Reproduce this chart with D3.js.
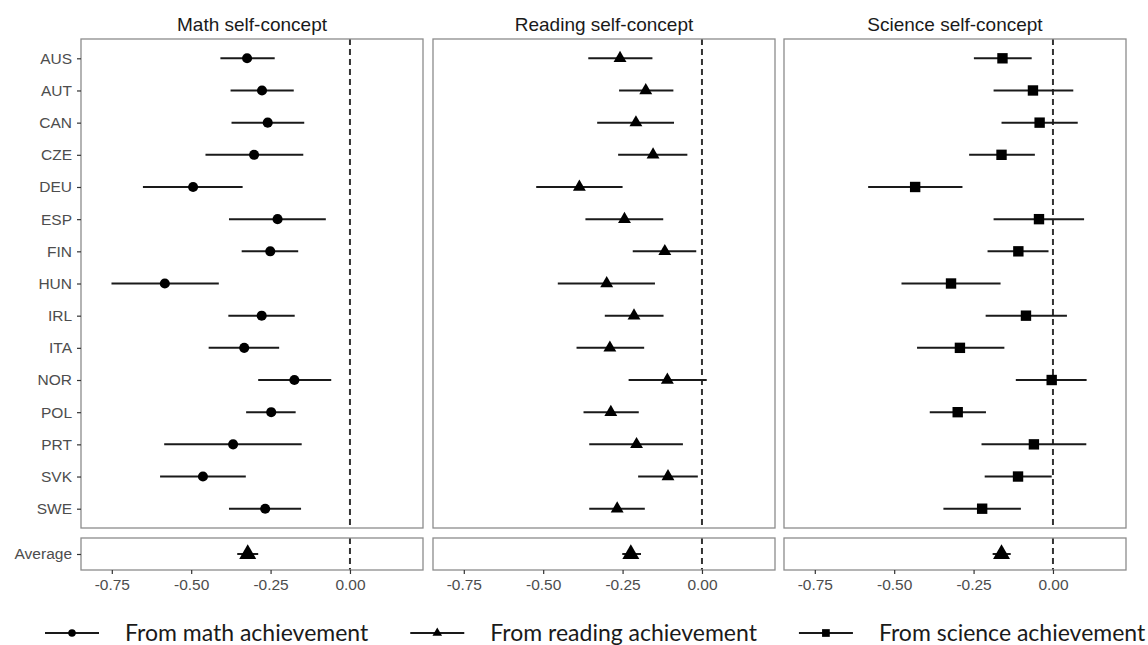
<!DOCTYPE html>
<html>
<head>
<script src="https://cdn.jsdelivr.net/npm/d3@7"></script>
<style>
  body { margin: 0; background: #fff; }
  text { font-family: "Liberation Sans", Arial, Helvetica, sans-serif; }
  .legend text { font-family: Lato, "Open Sans", sans-serif; }
</style>
</head>
<body>
<script>

// country rows, top to bottom
var countries = ["AUS", "AUT", "CAN", "CZE", "DEU", "ESP", "FIN", "HUN", "IRL", "ITA", "NOR", "POL", "PRT", "SVK", "SWE"];

var titles = ["Math self-concept", "Reading self-concept", "Science self-concept"];
var legendLabels = ["From math achievement", "From reading achievement", "From science achievement"];
var xTicks = [-0.75, -0.5, -0.25, 0];

// estimates with lower / upper bounds
var mathEst = [-0.324, -0.277, -0.259, -0.302, -0.494, -0.228, -0.251, -0.583, -0.278, -0.333, -0.175, -0.248, -0.368, -0.463, -0.267];
var mathLo  = [-0.408, -0.376, -0.373, -0.455, -0.652, -0.381, -0.341, -0.751, -0.383, -0.445, -0.289, -0.327, -0.585, -0.598, -0.381];
var mathHi  = [-0.237, -0.177, -0.144, -0.147, -0.338, -0.076, -0.163, -0.413, -0.174, -0.223, -0.059, -0.171, -0.152, -0.328, -0.154];

var readEst = [-0.258, -0.177, -0.208, -0.154, -0.386, -0.244, -0.117, -0.300, -0.214, -0.290, -0.109, -0.287, -0.206, -0.107, -0.267];
var readLo  = [-0.358, -0.261, -0.330, -0.264, -0.522, -0.367, -0.218, -0.454, -0.306, -0.395, -0.231, -0.373, -0.355, -0.201, -0.355];
var readHi  = [-0.156, -0.090, -0.088, -0.046, -0.250, -0.122, -0.018, -0.148, -0.121, -0.182, 0.015, -0.199, -0.060, -0.013, -0.180];

var sciEst = [-0.159, -0.063, -0.042, -0.162, -0.434, -0.044, -0.109, -0.321, -0.085, -0.293, -0.004, -0.300, -0.060, -0.110, -0.223];
var sciLo  = [-0.249, -0.187, -0.162, -0.264, -0.582, -0.187, -0.206, -0.477, -0.212, -0.428, -0.117, -0.388, -0.225, -0.215, -0.345];
var sciHi  = [-0.067, 0.064, 0.078, -0.057, -0.285, 0.098, -0.014, -0.165, 0.044, -0.153, 0.106, -0.211, 0.105, -0.004, -0.101];

// pooled average per panel (math, reading, science)
var avgEst = [-0.322, -0.224, -0.162];
var avgLo  = [-0.355, -0.251, -0.190];
var avgHi  = [-0.289, -0.192, -0.133];

var panels = [
  {est: mathEst, lo: mathLo, hi: mathHi, sym: d3.symbolCircle, size: 80},
  {est: readEst, lo: readLo, hi: readHi, sym: d3.symbolTriangle, size: 72},
  {est: sciEst,  lo: sciLo,  hi: sciHi,  sym: d3.symbolSquare, size: 108}
];

var panelLeft = [81, 433, 784], panelW = 342;
var plotTop = 39, plotBottom = 528, avgTop = 538, avgBottom = 570;
var ink = "#1a1a1a", borderCol = "#8c8c8c";

var svg = d3.select("body").append("svg")
  .attr("width", 1148)
  .attr("height", 645);

var x = d3.scaleLinear().domain([-0.847, 0.23]).range([0, panelW]);
var y = d3.scalePoint().domain(countries).range([plotTop, plotBottom]).padding(0.6);
var yAvg = d3.scalePoint().domain(["Average"]).range([avgTop, avgBottom]).padding(0.5);

panels.forEach(function (p, i) {
  var g = svg.append("g").attr("transform", "translate(" + panelLeft[i] + ",0)");

  g.append("text")
    .attr("x", panelW / 2).attr("y", 31)
    .attr("text-anchor", "middle")
    .attr("font-size", 19).attr("fill", ink)
    .text(titles[i]);

  // zero reference line in both strips
  [[plotTop, plotBottom], [avgTop, avgBottom]].forEach(function (r) {
    g.append("line")
      .attr("x1", x(0)).attr("x2", x(0))
      .attr("y1", r[0]).attr("y2", r[1])
      .attr("stroke", "#333").attr("stroke-width", 2)
      .attr("stroke-dasharray", "6,4");
  });

  var rows = countries.map(function (c, k) {
    return {c: c, est: p.est[k], lo: p.lo[k], hi: p.hi[k]};
  });

  g.selectAll("line.bar").data(rows).enter().append("line")
    .attr("class", "bar")
    .attr("x1", function (d) { return x(d.lo); })
    .attr("x2", function (d) { return x(d.hi); })
    .attr("y1", function (d) { return y(d.c); })
    .attr("y2", function (d) { return y(d.c); })
    .attr("stroke", ink).attr("stroke-width", 2);

  g.selectAll("path.pt").data(rows).enter().append("path")
    .attr("class", "pt")
    .attr("d", d3.symbol().type(p.sym).size(p.size))
    .attr("transform", function (d) { return "translate(" + x(d.est) + "," + y(d.c) + ")"; })
    .attr("fill", "#000");

  // average strip
  g.append("line")
    .attr("x1", x(avgLo[i])).attr("x2", x(avgHi[i]))
    .attr("y1", yAvg("Average")).attr("y2", yAvg("Average"))
    .attr("stroke", ink).attr("stroke-width", 2);
  g.append("path")
    .attr("d", d3.symbol().type(d3.symbolTriangle).size(125))
    .attr("transform", "translate(" + x(avgEst[i]) + "," + yAvg("Average") + ")")
    .attr("fill", "#000");

  g.append("rect")
    .attr("x", 0).attr("y", plotTop).attr("width", panelW).attr("height", plotBottom - plotTop)
    .attr("fill", "none").attr("stroke", borderCol).attr("stroke-width", 1.3);
  g.append("rect")
    .attr("x", 0).attr("y", avgTop).attr("width", panelW).attr("height", avgBottom - avgTop)
    .attr("fill", "none").attr("stroke", borderCol).attr("stroke-width", 1.3);

  var xa = g.append("g")
    .attr("transform", "translate(0," + avgBottom + ")")
    .call(d3.axisBottom(x).tickValues(xTicks).tickFormat(d3.format(".2f")).tickSize(4).tickPadding(5));
  xa.select(".domain").remove();
  xa.selectAll("line").attr("stroke", "#333").attr("stroke-width", 1.2);
  xa.selectAll("text").attr("font-size", 15.5).attr("fill", "#4d4d4d")
    .text(function (d) { return d3.format(".2f")(d).replace("−", "-"); });

  if (i === 0) {
    [y, yAvg].forEach(function (s) {
      var ya = g.append("g").call(d3.axisLeft(s).tickSize(4).tickPadding(5));
      ya.select(".domain").remove();
      ya.selectAll("line").attr("stroke", "#333").attr("stroke-width", 1.2);
      ya.selectAll("text").attr("font-size", 15.5).attr("fill", "#4d4d4d");
    });
  }
});

// legend along the bottom
var leg = svg.append("g").attr("class", "legend");
var legY = 633, lx = 45;
panels.forEach(function (p, i) {
  leg.append("line")
    .attr("x1", lx).attr("x2", lx + 54)
    .attr("y1", legY).attr("y2", legY)
    .attr("stroke", ink).attr("stroke-width", 2);
  leg.append("path")
    .attr("d", d3.symbol().type(p.sym).size(p.size * 0.55))
    .attr("transform", "translate(" + (lx + 27) + "," + legY + ")")
    .attr("fill", "#000");
  var t = leg.append("text")
    .attr("x", lx + 80).attr("y", legY)
    .attr("dy", "0.36em")
    .attr("font-size", 23).attr("fill", ink)
    .text(legendLabels[i]);
  lx += 80 + t.node().getComputedTextLength() + 42;
});

</script>
</body>
</html>
